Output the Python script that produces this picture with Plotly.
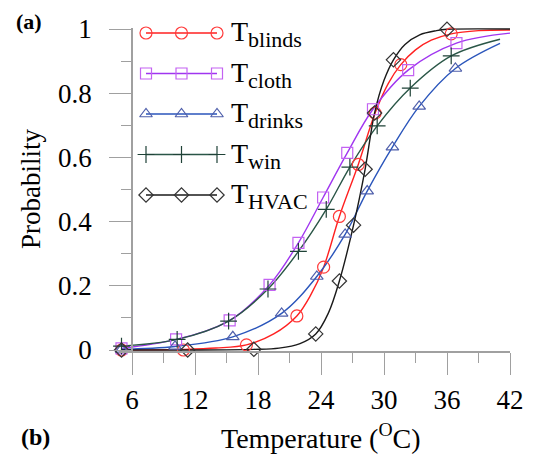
import plotly.graph_objects as go

# ---------------- data ----------------
series_names = ["blinds", "cloth", "drinks", "win", "HVAC"]

# smooth-curve support points (temperature, probability)
blinds_line_t = [5, 10.9, 14, 16.9, 19.5, 21.7, 23, 24.25, 25.75, 27.55, 29.15, 30.4, 31.6, 33, 34.5, 36.4, 39, 42]
blinds_line_p = [0.0, 0.002, 0.006, 0.016, 0.05, 0.106, 0.17, 0.258, 0.416, 0.578, 0.738, 0.83, 0.889, 0.935, 0.965, 0.985, 0.995, 0.997]

cloth_line_t = [5, 10.2, 15.3, 19.1, 21.85, 24.2, 26.5, 28.95, 32.3, 36.9, 42]
cloth_line_p = [0.005, 0.033, 0.092, 0.203, 0.334, 0.475, 0.614, 0.75, 0.872, 0.956, 0.987]

drinks_line_t = [5, 10.1, 15.6, 20.25, 23.6, 26.3, 28.4, 30.8, 33.35, 36.8, 41.05]
drinks_line_p = [0.002, 0.011, 0.041, 0.114, 0.229, 0.36, 0.495, 0.632, 0.759, 0.877, 0.955]

win_line_t = [5, 10.3, 15.2, 18.95, 21.85, 24.5, 26.75, 29.35, 32.5, 36.4, 41.05]
win_line_p = [0.012, 0.033, 0.09, 0.19, 0.307, 0.438, 0.57, 0.698, 0.816, 0.916, 0.968]

hvac_line_t = [5, 11.3, 17.6, 20, 22, 23.5, 24.7, 25.75, 27.1, 28.2, 29.1, 30, 30.9, 32, 33.4, 35, 36, 42]
hvac_line_p = [0.0, 0.0, 0.002, 0.006, 0.02, 0.05, 0.115, 0.215, 0.389, 0.563, 0.738, 0.84, 0.904, 0.952, 0.982, 0.995, 0.999, 1.0]

# marker positions
blinds_mk_t = [5, 10.9, 16.9, 21.7, 24.25, 25.75, 27.55, 29.15, 31.6, 36.4]
blinds_mk_p = [0.0, 0.0, 0.016, 0.106, 0.258, 0.416, 0.578, 0.738, 0.889, 0.985]

cloth_mk_t = [5, 10.2, 15.3, 19.1, 21.85, 24.2, 26.5, 28.95, 32.3, 36.9]
cloth_mk_p = [0.005, 0.033, 0.092, 0.203, 0.334, 0.475, 0.614, 0.75, 0.872, 0.956]

drinks_mk_t = [5, 10.1, 15.6, 20.25, 23.6, 26.3, 28.4, 30.8, 33.35, 36.8]
drinks_mk_p = [0.002, 0.011, 0.041, 0.114, 0.229, 0.36, 0.495, 0.632, 0.759, 0.877]

win_mk_t = [5, 10.3, 15.2, 18.95, 21.85, 24.5, 26.75, 29.35, 32.5, 36.4]
win_mk_p = [0.012, 0.033, 0.09, 0.19, 0.307, 0.438, 0.57, 0.698, 0.816, 0.916]

hvac_mk_t = [5, 11.3, 17.6, 23.5, 25.75, 27.1, 28.2, 29.1, 30.9, 36.0]
hvac_mk_p = [0.0, 0.0, 0.002, 0.05, 0.215, 0.389, 0.563, 0.738, 0.904, 0.999]

x_ticks = [6, 12, 18, 24, 30, 36, 42]
y_ticks = [0, 0.2, 0.4, 0.6, 0.8, 1]
y_tick_text = ["0", "0.2", "0.4", "0.6", "0.8", "1"]

# ---------------- styling ----------------
FONT = "'Liberation Serif', 'Times New Roman', Tinos, 'DejaVu Serif', serif"
OFF = 8                                   # page body margin of the browser
W, H = 537 - OFF, 457 - OFF
L, R, T, B = 119, 510, 28, 351            # plot area in screenshot px
X0 = 6 - (132 - L) / 10.5                 # left x-range value
Y_TOP = 1 + (29 - T) / 321.0
Y_BOT = -(B - 350) / 321.0

styles = {
    "blinds": dict(line="#ff2020", mk="#ff3a3a", sym="circle-open", size=12),
    "cloth": dict(line="#a035f0", mk="#c362f2", sym="square-open", size=11),
    "drinks": dict(line="#2a55bb", mk="#4f5fab", sym="triangle-up-open", size=11),
    "win": dict(line="#2a5647", mk="#1f4237", sym="cross-thin-open", size=12),
    "HVAC": dict(line="#1a1a1a", mk="#333333", sym="diamond-open", size=11),
}
data = {
    "blinds": (blinds_line_t, blinds_line_p, blinds_mk_t, blinds_mk_p),
    "cloth": (cloth_line_t, cloth_line_p, cloth_mk_t, cloth_mk_p),
    "drinks": (drinks_line_t, drinks_line_p, drinks_mk_t, drinks_mk_p),
    "win": (win_line_t, win_line_p, win_mk_t, win_mk_p),
    "HVAC": (hvac_line_t, hvac_line_p, hvac_mk_t, hvac_mk_p),
}

fig = go.Figure()
for name in series_names:
    lt, lp, mt, mp = data[name]
    s = styles[name]
    fig.add_trace(go.Scatter(x=lt, y=lp, mode="lines", line=dict(color=s["line"], width=1.4, shape="spline", smoothing=1.0),
                             showlegend=False, hoverinfo="skip"))
for name in series_names:
    lt, lp, mt, mp = data[name]
    s = styles[name]
    fig.add_trace(go.Scatter(x=mt, y=mp, mode="markers", cliponaxis=False,
                             marker=dict(symbol=s["sym"], size=s["size"], color=s["mk"], line=dict(width=1.2, color=s["mk"])),
                             showlegend=False, hoverinfo="skip"))

# ---------------- custom legend (three markers per entry) ----------------
leg_rows = [33, 73.5, 114, 154.5, 195]
leg_x = [146, 181.5, 217]
annotations = []
for name, ry in zip(series_names, leg_rows):
    s = styles[name]
    fig.add_trace(go.Scatter(x=leg_x, y=[ry] * 3, xaxis="x2", yaxis="y2", mode="lines+markers", cliponaxis=False,
                             line=dict(color=s["line"], width=1.4),
                             marker=dict(symbol=s["sym"], size=s["size"], color=s["mk"], line=dict(width=1.2, color=s["mk"])),
                             showlegend=False, hoverinfo="skip"))
    annotations.append(dict(xref="x2", yref="y2", x=229, y=ry + 1, xanchor="left", yanchor="middle", showarrow=False,
                            text="T<sub><span style='font-size:22px'>%s</span></sub>" % name,
                            font=dict(family=FONT, size=28, color="black")))

def px2paper_x(px):
    return (px - L) / (R - L)

def px2paper_y(py):
    return (B - py) / (B - T)

annotations += [
    dict(xref="paper", yref="paper", x=px2paper_x(321), y=px2paper_y(436), xanchor="center", yanchor="middle",
         showarrow=False, text="Temperature (<sup>O</sup>C)", font=dict(family=FONT, size=28, color="black")),
    dict(xref="paper", yref="paper", x=px2paper_x(31), y=px2paper_y(189), xanchor="center", yanchor="middle",
         showarrow=False, text="Probability", textangle=-90, font=dict(family=FONT, size=27, color="black")),
    dict(xref="paper", yref="paper", x=px2paper_x(29), y=px2paper_y(OFF), xanchor="center", yanchor="top",
         showarrow=False, borderpad=0, text="<b>(a)</b>", font=dict(family=FONT, size=22, color="black")),
    dict(xref="paper", yref="paper", x=px2paper_x(35), y=px2paper_y(437), xanchor="center", yanchor="middle",
         showarrow=False, text="<b>(b)</b>", font=dict(family=FONT, size=24, color="black")),
]

axis_col = "#a0a0a0"
fig.update_layout(
    width=W, height=H,
    margin=dict(l=L - OFF, r=W - (R - OFF), t=T - OFF, b=H - (B - OFF), pad=0, autoexpand=False),
    paper_bgcolor="white", plot_bgcolor="white",
    font=dict(family=FONT, size=27, color="black"),
    xaxis=dict(range=[X0, 42], tickmode="array", tickvals=x_ticks, ticks="outside", ticklen=22, tickwidth=1.2,
               tickcolor=axis_col, showline=True, linecolor=axis_col, linewidth=1.5, showgrid=False, zeroline=False,
               tickfont=dict(family=FONT, size=27, color="black"), ticklabelstandoff=2,
               minor=dict(tickmode="array", tickvals=[9, 15, 21, 27, 33, 39], ticks="outside", ticklen=10,
                          tickcolor=axis_col, tickwidth=1.2, showgrid=False)),
    yaxis=dict(range=[Y_BOT, Y_TOP], tickmode="array", tickvals=y_ticks, ticktext=y_tick_text, ticks="outside",
               ticklen=22, tickwidth=1.2, tickcolor=axis_col, showline=True, linecolor=axis_col, linewidth=1.5,
               showgrid=False, zeroline=False, anchor="free", position=px2paper_x(132),
               tickfont=dict(family=FONT, size=27, color="black"), ticklabelstandoff=12,
               minor=dict(tickmode="array", tickvals=[0.1, 0.3, 0.5, 0.7, 0.9], ticks="outside", ticklen=10,
                          tickcolor=axis_col, tickwidth=1.2, showgrid=False)),
    xaxis2=dict(overlaying="x", range=[L, R], visible=False),
    yaxis2=dict(overlaying="y", range=[B, T], visible=False),
    annotations=annotations,
)

fig.write_html("out.html")
